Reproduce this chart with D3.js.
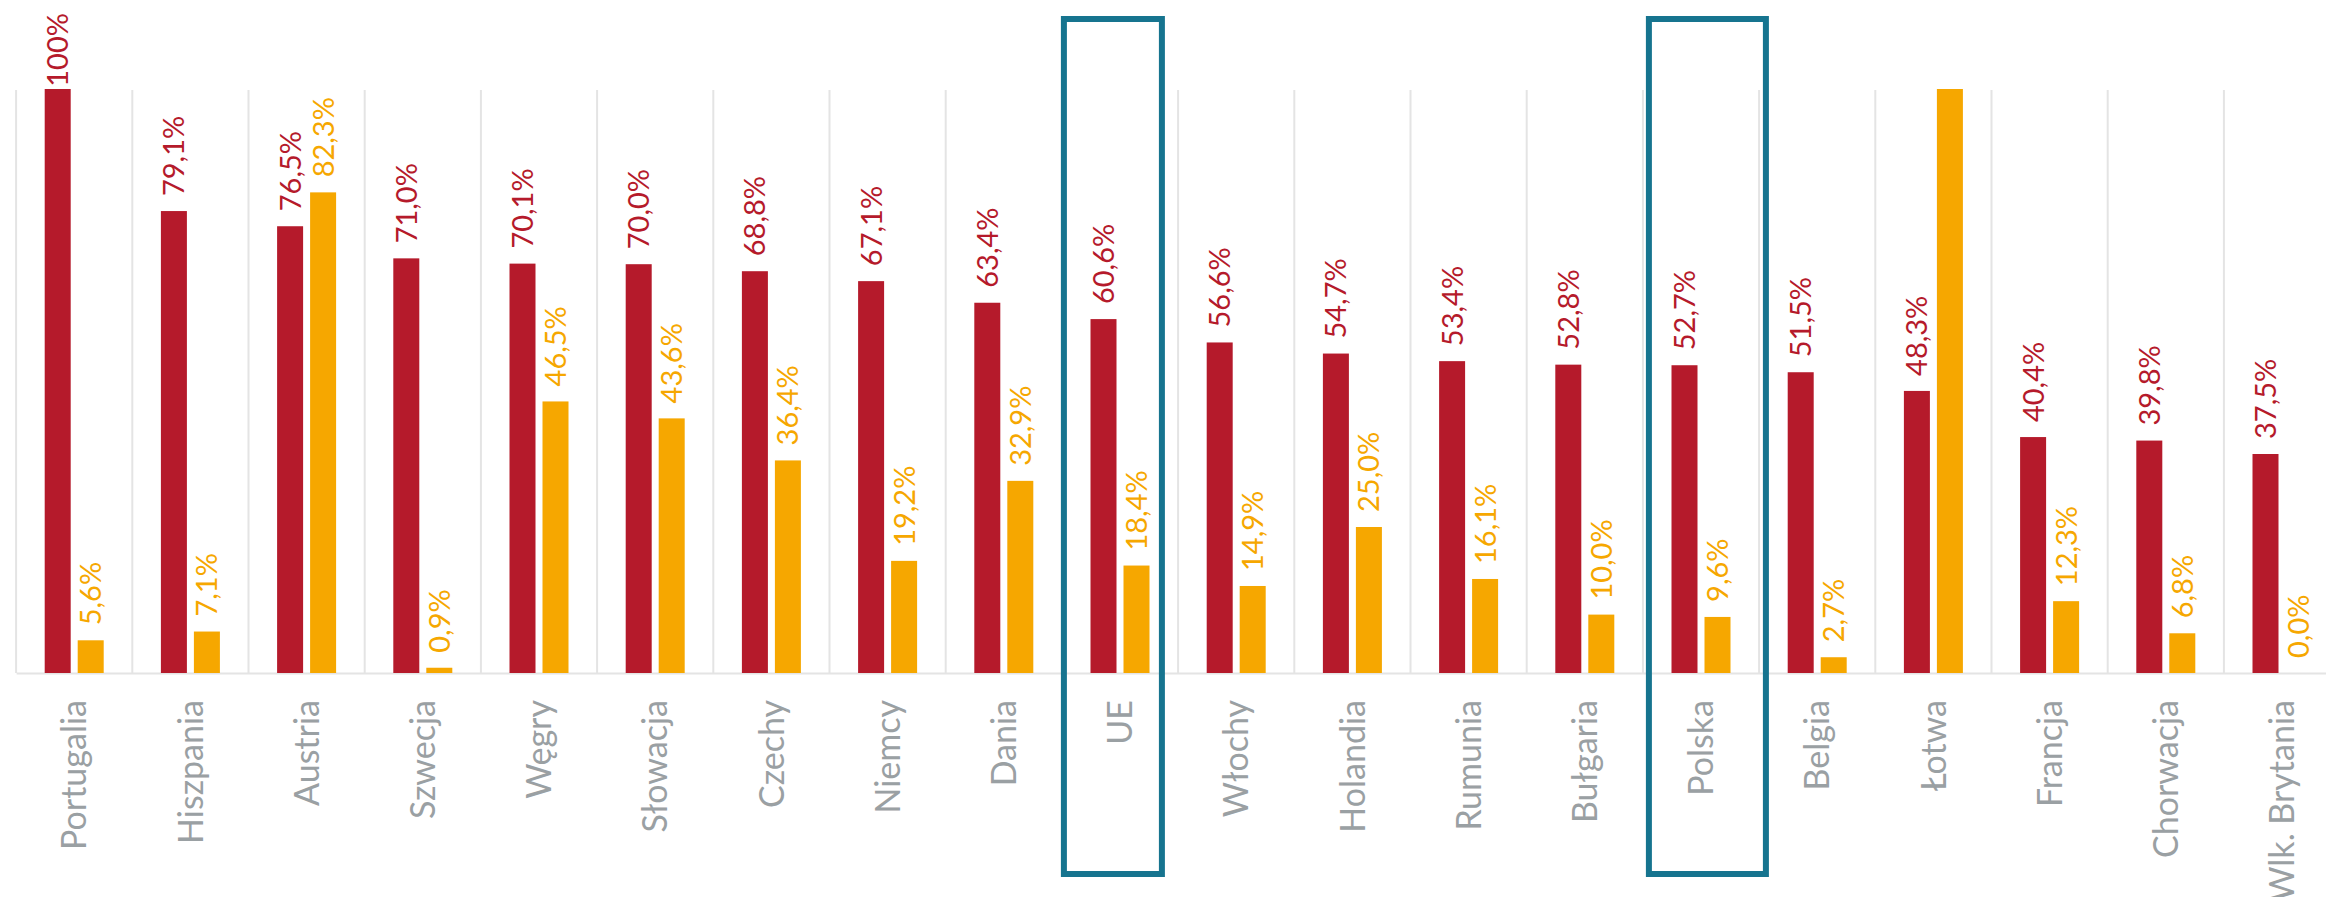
<!DOCTYPE html>
<html>
<head>
<meta charset="utf-8">
<script src="https://cdn.jsdelivr.net/npm/d3@7"></script>
<style>
  html, body { margin: 0; padding: 0; background: #ffffff; }
  svg { display: block; }
</style>
</head>
<body>
<script>
// ---- Data ----
const categories = ["Portugalia", "Hiszpania", "Austria", "Szwecja", "Węgry", "Słowacja", "Czechy", "Niemcy", "Dania", "UE",
  "Włochy", "Holandia", "Rumunia", "Bułgaria", "Polska", "Belgia", "Łotwa", "Francja", "Chorwacja", "Wlk. Brytania"];
const seriesRed = [100, 79.1, 76.5, 71.0, 70.1, 70.0, 68.8, 67.1, 63.4, 60.6, 56.6, 54.7, 53.4, 52.8, 52.7, 51.5, 48.3, 40.4, 39.8, 37.5];
// Łotwa exceeds the axis maximum and is clipped at the top (its label is not shown)
const seriesOrange = [5.6, 7.1, 82.3, 0.9, 46.5, 43.6, 36.4, 19.2, 32.9, 18.4, 14.9, 25.0, 16.1, 10.0, 9.6, 2.7, 100, 12.3, 6.8, 0.0];
const hiddenOrangeLabels = ["Łotwa"];
const highlighted = ["UE", "Polska"];
const yDomain = [0, 100];

// ---- Layout ----
const W = 2326, H = 897;
const plotLeft = 16.1, plotRight = 16.1 + 20 * 116.2;
const plotTop = 89, plotBottom = 673;
const red = "#b51a2b", orange = "#f6a700", gray = "#9aa0a3", grid = "#e4e4e4", teal = "#16748f";
const FONT = "Lato, 'Open Sans', sans-serif";

const svg = d3.select("body").append("svg").attr("width", W).attr("height", H);

const x = d3.scaleBand().domain(categories).range([plotLeft, plotRight]).paddingInner(0).paddingOuter(0);
const inner = d3.scaleBand().domain(["red", "orange"]).range([0, 59]).paddingInner(7 / 33);
const y = d3.scaleLinear().domain(yDomain).range([plotBottom, plotTop]).clamp(true);

// gridlines at category boundaries
const bounds = categories.map(c => x(c));
svg.append("g").selectAll("line").data(bounds).join("line")
  .attr("x1", d => d).attr("x2", d => d)
  .attr("y1", y(100) + 1).attr("y2", y(0))
  .attr("stroke", grid).attr("stroke-width", 2);

// baseline axis
const xAxis = d3.axisBottom(x).tickSize(0).tickFormat("");
const ax = svg.append("g").attr("transform", `translate(0,${y(0)})`).call(xAxis);
ax.select(".domain").attr("stroke", grid).attr("stroke-width", 2);

const rows = categories.map((c, i) => ({ c, red: seriesRed[i], orange: seriesOrange[i] }));
const fmt = v => (v === 100 ? "100" : v.toFixed(1).replace(".", ",")) + "%";

const groups = svg.append("g").selectAll("g").data(rows).join("g")
  .attr("transform", d => `translate(${x(d.c) + x.bandwidth() / 2 - 29.5},0)`);

groups.append("rect")
  .attr("x", inner("red")).attr("width", inner.bandwidth())
  .attr("y", d => y(d.red)).attr("height", d => y(0) - y(d.red))
  .attr("fill", red);
groups.append("rect")
  .attr("x", inner("orange")).attr("width", inner.bandwidth())
  .attr("y", d => y(d.orange)).attr("height", d => y(0) - y(d.orange))
  .attr("fill", orange);

function addLabel(g, key, color) {
  g.filter(d => !(key === "orange" && hiddenOrangeLabels.includes(d.c)))
    .append("text")
    .text(d => fmt(d[key]))
    .attr("font-family", FONT).attr("font-size", 29).attr("fill", color)
    .attr("text-anchor", "start")
    .attr("dy", "0.36em")
    .each(function (d) {
      const len = this.getComputedTextLength();
      let yy = y(d[key]) - 15;
      yy = Math.max(yy, 13 + len);
      const cx = inner(key) + inner.bandwidth() / 2;
      d3.select(this).attr("transform", `translate(${cx},${yy}) rotate(-90)`);
    });
}
addLabel(groups, "red", red);
addLabel(groups, "orange", orange);

// category labels
svg.append("g").selectAll("text").data(categories).join("text")
  .text(d => d)
  .attr("font-family", FONT).attr("font-size", 34).attr("fill", gray)
  .attr("text-anchor", "end").attr("dy", "0.36em")
  .attr("transform", d => `translate(${x(d) + x.bandwidth() / 2},${y(0) + 27}) rotate(-90)`);

// highlight boxes
const boxSpec = { "UE": { dx: 2, w: 98 }, "Polska": { dx: 6, w: 117 } };
svg.append("g").selectAll("rect").data(highlighted).join("rect")
  .attr("x", d => x(d) + boxSpec[d].dx).attr("width", d => boxSpec[d].w)
  .attr("y", 19).attr("height", 855)
  .attr("fill", "none").attr("stroke", teal).attr("stroke-width", 6);
</script>
</body>
</html>
